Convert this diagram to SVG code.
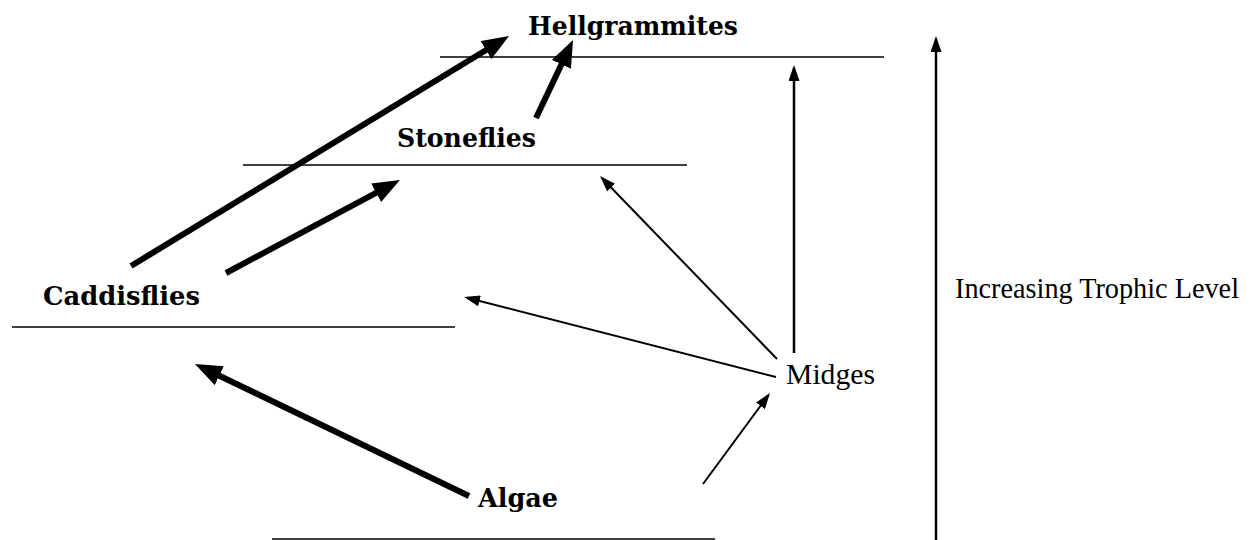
<svg xmlns="http://www.w3.org/2000/svg" width="1251" height="540" viewBox="0 0 1251 540">
<style>
.bold{font-family:"DejaVu Serif","Liberation Serif",serif;font-weight:bold;font-size:26px;fill:#000}
.reg{font-family:"Liberation Serif","Times New Roman",serif;font-size:28.5px;fill:#000}
.level{stroke:#000;stroke-width:1.6;fill:none}
.thick{stroke:#000;stroke-width:6;fill:none;marker-end:url(#headThick)}
.thin{stroke:#000;stroke-width:2;fill:none;marker-end:url(#headThin)}
.axis{stroke:#000;stroke-width:2.5;fill:none;marker-end:url(#headThin)}
</style>
<defs>
<marker id="headThick" markerUnits="userSpaceOnUse" markerWidth="27" markerHeight="21" viewBox="0 0 27 21" refX="19" refY="10.5" orient="auto"><path d="M0,0 L27,10.5 L0,21 z" fill="#000"/></marker>
<marker id="headThin" markerUnits="userSpaceOnUse" markerWidth="16" markerHeight="11" viewBox="0 0 16 11" refX="13" refY="5.5" orient="auto"><path d="M0,0 L16,5.5 L0,11 z" fill="#000"/></marker>
</defs>
<rect width="1251" height="540" fill="#fff"/>
<g id="hellgrammites">
<line class="level" x1="440" y1="57" x2="884" y2="57"/>
<text class="bold" x="528" y="35" textLength="210" lengthAdjust="spacingAndGlyphs">Hellgrammites</text>
</g>
<g id="stoneflies">
<line class="level" x1="243" y1="165" x2="687" y2="165"/>
<text class="bold" x="397" y="147" textLength="139" lengthAdjust="spacingAndGlyphs">Stoneflies</text>
</g>
<g id="caddisflies">
<line class="level" x1="12" y1="327" x2="455" y2="327"/>
<text class="bold" x="43" y="305" textLength="157" lengthAdjust="spacingAndGlyphs">Caddisflies</text>
</g>
<g id="algae">
<line class="level" x1="272" y1="539" x2="715" y2="539"/>
<text class="bold" x="478" y="507" textLength="80" lengthAdjust="spacingAndGlyphs">Algae</text>
</g>
<g id="midges">
<text class="reg" x="786" y="384" textLength="89" lengthAdjust="spacingAndGlyphs">Midges</text>
</g>
<g id="trophic-label">
<text class="reg" x="955" y="298" textLength="284" lengthAdjust="spacingAndGlyphs">Increasing Trophic Level</text>
</g>
<g id="connectors">
<line class="thick" x1="131" y1="266" x2="502.2" y2="40.2"/>
<line class="thick" x1="536" y1="118" x2="569.6" y2="47.2"/>
<line class="thick" x1="226" y1="273" x2="392.9" y2="183.8"/>
<line class="thick" x1="469" y1="496" x2="202.2" y2="367.5"/>
<line class="thin" x1="777" y1="359" x2="602.1" y2="178.2"/>
<line class="thin" x1="776" y1="377" x2="466.9" y2="297.7"/>
<line class="axis" x1="794" y1="353" x2="794" y2="68"/>
<line class="thin" x1="703" y1="484" x2="768.2" y2="395.4"/>
<line class="axis" x1="936" y1="541" x2="936" y2="39"/>
</g>
</svg>
